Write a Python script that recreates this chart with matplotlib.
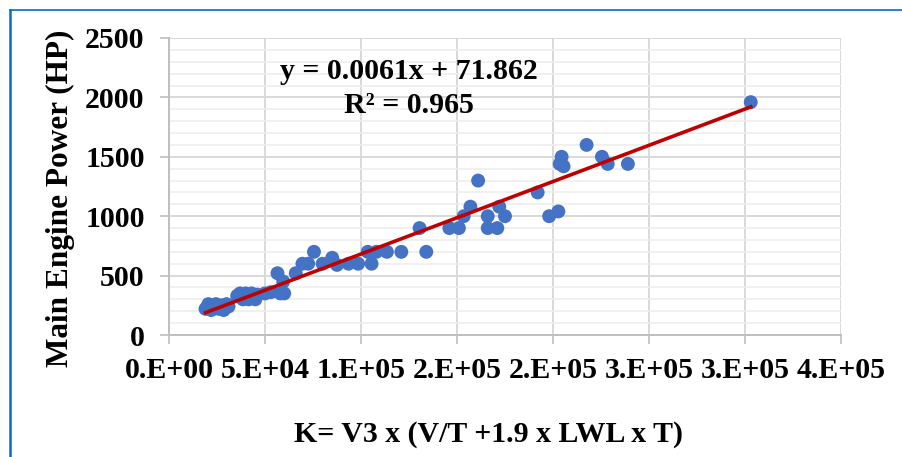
import numpy as np
import matplotlib
matplotlib.use("Agg")
import matplotlib.pyplot as plt
from matplotlib.lines import Line2D
from matplotlib.ticker import MultipleLocator

# K values and installed main engine power (HP)
k_values = [19000, 20500, 22000, 23000, 24500, 26000, 27500, 28500, 30000, 31000,
            35500, 37000, 38500, 40000, 41500, 43000, 45000, 46000, 50000, 53000,
            56500, 58000, 59500, 60000, 66000, 69500, 72500, 75500, 80000, 85000,
            87500, 93500, 98500, 103500, 105500, 108000, 113500, 121000, 130500, 134000,
            146000, 151000, 153500, 157000, 161000, 166000, 166000, 171000, 172000, 175000,
            192000, 198000, 202800, 204500, 203500, 205500, 217500, 225500, 228500, 239000,
            303000]
power_hp = [220, 260, 210, 250, 260, 220, 250, 210, 260, 240,
            330, 350, 300, 350, 300, 350, 300, 340, 350, 360,
            520, 350, 450, 350, 520, 600, 600, 700, 600, 650,
            590, 600, 600, 700, 600, 700, 700, 700, 900, 700,
            900, 900, 1000, 1080, 1300, 1000, 900, 900, 1080, 1000,
            1200, 1000, 1040, 1500, 1440, 1420, 1600, 1500, 1440, 1440,
            1960]

# linear trendline
slope = 0.0061
intercept = 71.862
r_squared = 0.965

xtick_values = [0, 50000, 100000, 150000, 200000, 250000, 300000, 350000]
xtick_labels = ["0.E+00", "5.E+04", "1.E+05", "2.E+05", "2.E+05", "3.E+05", "3.E+05", "4.E+05"]

plt.rcParams["font.family"] = ["Liberation Serif", "DejaVu Serif"]
plt.rcParams["font.weight"] = "bold"

fig = plt.figure(figsize=(9.02, 4.57), dpi=100)
ax = fig.add_axes([169 / 902, 1 - 335 / 457, 672 / 902, 297 / 457])

ax.set_xlim(0, 350000)
ax.set_ylim(0, 2500)

ax.yaxis.set_major_locator(MultipleLocator(500))
ax.yaxis.set_minor_locator(MultipleLocator(100))
ax.set_xticks(xtick_values)
ax.set_xticklabels(xtick_labels)

ax.grid(True, which="major", color="#d9d9d9", linewidth=1.4, zorder=0)
ax.grid(True, which="minor", axis="y", color="#eeeeee", linewidth=1.2, zorder=0)
ax.set_axisbelow(True)

for side in ["top", "right"]:
    ax.spines[side].set_visible(False)
for side in ["left", "bottom"]:
    ax.spines[side].set_color("#bfbfbf")
    ax.spines[side].set_linewidth(1.4)

ax.tick_params(axis="both", which="major", direction="out", length=6.5, width=1.2,
               color="#bfbfbf", labelsize=21.5, labelcolor="black")
ax.tick_params(axis="y", which="major", pad=11)
ax.tick_params(axis="x", which="major", pad=9)
ax.tick_params(axis="y", which="minor", length=0)
for lbl in ax.get_xticklabels() + ax.get_yticklabels():
    lbl.set_fontweight("bold")

ax.scatter(k_values, power_hp, s=100, color="#4472C4", edgecolors="none", zorder=3,
           clip_on=False)

x_fit = np.array([min(k_values), max(k_values)])
ax.plot(x_fit, slope * x_fit + intercept, color="#C00000", linewidth=2.6, zorder=4)

ax.text(0.357, 0.886, f"y = {slope}x + {intercept}", transform=ax.transAxes,
        ha="center", va="center", fontsize=21.5, fontweight="bold")
ax.text(0.357, 0.774, f"R² = {r_squared}", transform=ax.transAxes,
        ha="center", va="center", fontsize=21.5, fontweight="bold")

fig.text(60 / 902, 1 - 198 / 457, "Main Engine Power (HP)", rotation=90,
         ha="center", va="center", fontsize=22.5, fontweight="bold")
fig.text(489 / 902, 1 - 435 / 457, "K= V3 x (V/T +1.9 x LWL x T)",
         ha="center", va="center", fontsize=21.5, fontweight="bold")

# outer frame
fig.add_artist(Line2D([10 / 902, 10 / 902], [0, 1 - 10 / 457], transform=fig.transFigure,
                      color="#0070C0", linewidth=1.8))
fig.add_artist(Line2D([10 / 902, 1], [1 - 10 / 457, 1 - 10 / 457], transform=fig.transFigure,
                      color="#0070C0", linewidth=1.2))

fig.savefig("out.png", dpi=100)
